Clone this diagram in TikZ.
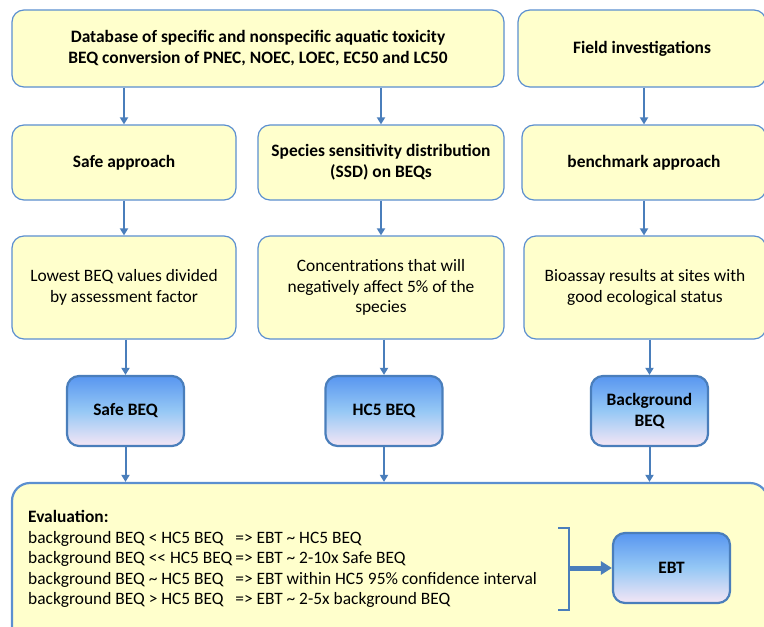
\documentclass[tikz,border=0pt]{standalone}
\usepackage{fontspec}
\setmainfont{Carlito}
\usetikzlibrary{arrows.meta}
\definecolor{boxfill}{RGB}{255,255,204}
\definecolor{boxline}{RGB}{91,143,208}
\definecolor{arrowblue}{RGB}{74,126,187}
\definecolor{beqtop}{RGB}{88,150,240}
\definecolor{beqmid}{RGB}{150,200,245}
\definecolor{beqbot}{RGB}{245,230,245}
\tikzset{
  every node/.style={font=\fontsize{17.4}{20.5}\selectfont},
  ybox/.style={draw=boxline, line width=1.2pt, fill=boxfill, rounded corners=12pt,
    align=center, inner sep=0pt},
  tbox/.style={ybox, font=\fontsize{17.4}{21}\selectfont\bfseries},
  bbox/.style={draw=arrowblue, line width=2.2pt, rounded corners=12pt, align=center,
    top color=beqtop, bottom color=beqbot, middle color=beqmid,
    minimum width=117pt, minimum height=70pt, inner sep=0pt, font=\fontsize{17.4}{21}\selectfont\bfseries},
  arr/.style={draw=arrowblue, line width=2pt, -{Triangle[width=8pt,length=7pt]}}
}
\begin{document}
\begin{tikzpicture}[x=1pt,y=-1pt]
      \useasboundingbox (0,0) rectangle (764,627);
      \clip (0,0) rectangle (764,627);

      \node[tbox, minimum width=492pt, minimum height=77pt] (db) at (258, 48.5)
        {Database of specific and nonspecific aquatic toxicity\\BEQ conversion of PNEC, NOEC, LOEC, EC50 and LC50};
      \node[tbox, minimum width=248pt, minimum height=77pt] (field) at (642, 48.5)
        {Field investigations};

      \node[tbox, minimum width=224pt, minimum height=75pt] (safe) at (124, 162.5)
        {Safe approach};
      \node[tbox, minimum width=246pt, minimum height=75pt] (ssd) at (381, 162.5)
        {Species sensitivity distribution\\(SSD) on BEQs};
      \node[tbox, minimum width=244pt, minimum height=75pt] (bench) at (644, 162.5)
        {benchmark approach};

      \node[ybox, minimum width=224pt, minimum height=103pt] (lowest) at (124, 287.5)
        {Lowest BEQ values divided\\by assessment factor};
      \node[ybox, minimum width=246pt, minimum height=103pt] (conc) at (381, 287.5)
        {Concentrations that will\\negatively affect 5\% of the\\species};
      \node[ybox, minimum width=242pt, minimum height=103pt] (bioassay) at (645, 287.5)
        {Bioassay results at sites with\\good ecological status};

      \node[bbox] (safebeq) at (125.5, 411) {Safe BEQ};
      \node[bbox] (hcbeq) at (384, 411) {HC5 BEQ};
      \node[bbox] (bgbeq) at (649.5, 411) {Background\\BEQ};

      \node[ybox, line width=2.2pt, rounded corners=18pt, minimum width=756pt, minimum height=162pt] (eval) at (390, 564) {};
      \node[anchor=north west, inner sep=0pt] (evaltext) at (28, 508) {%
        \begin{tabular}{@{}l@{}l@{}}
        \multicolumn{2}{@{}l}{\textbf{Evaluation:}}\\
        background BEQ < HC5 BEQ~~~ & => EBT \textasciitilde{} HC5 BEQ\\
        background BEQ {<}{<} HC5 BEQ\,& => EBT \textasciitilde{} 2-10x Safe BEQ\\
        background BEQ \textasciitilde{} HC5 BEQ~~~ & => EBT within HC5 95\% confidence interval\\
        background BEQ > HC5 BEQ~~~ & => EBT \textasciitilde{} 2-5x background BEQ
        \end{tabular}};
      \node[bbox] (ebt) at (671.5, 568) {EBT};

      \draw[arr] (db.south -| safe.north) -- (safe.north);
      \draw[arr] (db.south -| ssd.north) -- (ssd.north);
      \draw[arr] (field.south -| bench.north) -- (bench.north);

      \draw[arr] (safe.south) -- (lowest.north -| safe.south);
      \draw[arr] (ssd.south) -- (conc.north -| ssd.south);
      \draw[arr] (bench.south) -- (bioassay.north -| bench.south);

      \draw[arr] (lowest.south -| safebeq.north) -- (safebeq.north);
      \draw[arr] (conc.south -| hcbeq.north) -- (hcbeq.north);
      \draw[arr] (bioassay.south -| bgbeq.north) -- (bgbeq.north);

      \draw[arr] (safebeq.south) -- (eval.north -| safebeq.south);
      \draw[arr] (hcbeq.south) -- (eval.north -| hcbeq.south);
      \draw[arr] (bgbeq.south) -- (eval.north -| bgbeq.south);

      \coordinate (brtop) at (569, 528);
      \coordinate (brbot) at (569, 610);
      \draw[draw=arrowblue, line width=2.2pt] ([xshift=-11pt]brtop) -- (brtop) -- (brbot) -- ([xshift=-11pt]brbot);
      \draw[draw=arrowblue, line width=5pt, -{Triangle[width=13pt,length=11pt]}] (brtop |- ebt.west) -- (ebt.west);
    \end{tikzpicture}
\end{document}
